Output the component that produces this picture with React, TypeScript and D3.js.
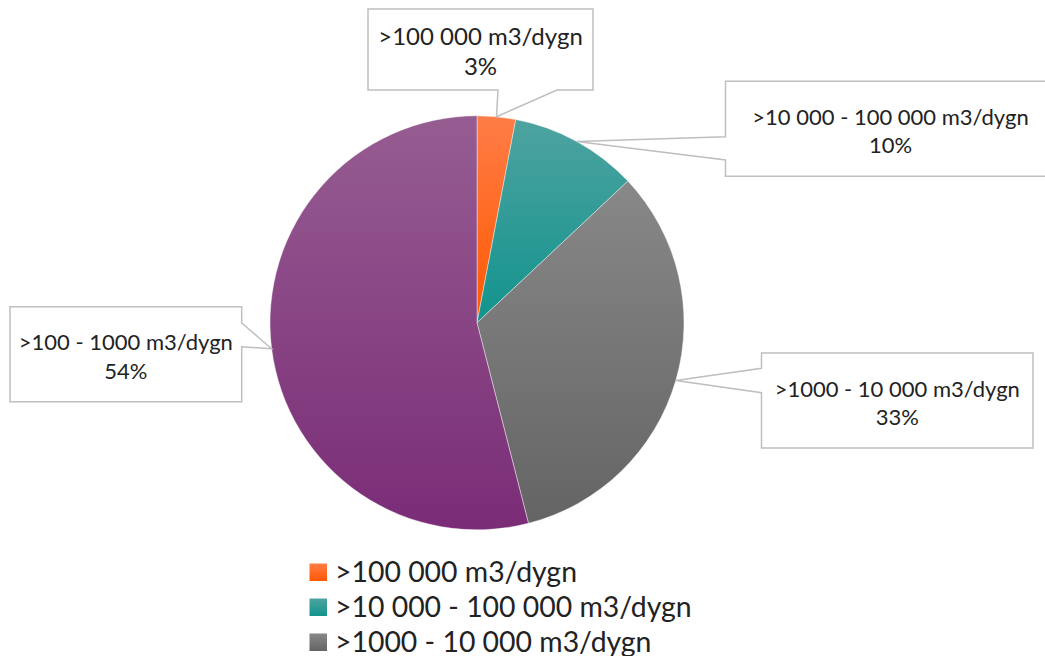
import React from "react";
import * as d3 from "d3";

const categories = [
  ">100 000 m3/dygn",
  ">10 000 - 100 000 m3/dygn",
  ">1000 - 10 000 m3/dygn",
  ">100 - 1000 m3/dygn",
];
const values = [3, 10, 33, 54];
const percentLabels = ["3%", "10%", "33%", "54%"];
const gradTop = ["#ff7d47", "#4ea3a0", "#888888", "#965d92"];
const gradBottom = ["#ff5800", "#12938d", "#646464", "#7a2c76"];

// layout of the callout boxes (style/layout only)
const boxes = [
  { x: 368, y: 9, w: 225, h: 81, side: "bottom", a: 498, b: 557, fs: 24, d1: -5, d2: 25.5 },
  { x: 725.5, y: 81.3, w: 330, h: 95, side: "left", a: 136.7, b: 160, fs: 22, d1: -4, d2: 24.5 },
  { x: 761.5, y: 353, w: 271.5, h: 95, side: "left", a: 368.3, b: 392.7, fs: 22, d1: -4, d2: 24.5 },
  { x: 10, y: 306.7, w: 231.7, h: 95, side: "right", a: 323, b: 346.7, fs: 22, d1: -4, d2: 24.5 },
];

const W = 1045;
const H = 656;
const cx = 477;
const cy = 322.8;
const R = 207;
const FONT = "Lato, 'Open Sans', sans-serif";

function calloutPath(bx: any, tx: number, ty: number) {
  const { x, y, w, h, side, a, b } = bx;
  if (side === "left") {
    return `M${x},${y}L${x + w},${y}L${x + w},${y + h}L${x},${y + h}L${x},${b}L${tx},${ty}L${x},${a}Z`;
  }
  if (side === "right") {
    return `M${x},${y}L${x + w},${y}L${x + w},${a}L${tx},${ty}L${x + w},${b}L${x + w},${y + h}L${x},${y + h}Z`;
  }
  return `M${x},${y}L${x + w},${y}L${x + w},${y + h}L${b},${y + h}L${tx},${ty}L${a},${y + h}L${x},${y + h}Z`;
}

export default function App() {
  const pie = d3.pie<number>().sort(null).value((d) => d);
  const arcs = pie(values);
  const arc = d3.arc<d3.PieArcDatum<number>>().innerRadius(0).outerRadius(R);
  const edge = d3.arc<d3.PieArcDatum<number>>().innerRadius(R).outerRadius(R);

  const legendY = d3.scaleLinear().domain([0, 1]).range([572.5, 607.5]);

  return (
    <svg
      width={W}
      height={H}
      style={{ position: "absolute", left: 0, top: 0, background: "#fff" }}
      fontFamily={FONT}
    >
      <defs>
        {values.map((_, i) => (
          <linearGradient key={i} id={`g${i}`} x1="0" y1="0" x2="0" y2="1">
            <stop offset="0" stopColor={gradTop[i]} />
            <stop offset="1" stopColor={gradBottom[i]} />
          </linearGradient>
        ))}
      </defs>
      <rect width={W} height={H} fill="#fff" />
      <g transform={`translate(${cx},${cy})`}>
        {arcs.map((d, i) => (
          <path key={i} d={arc(d) || ""} fill={`url(#g${i})`} stroke="#ffffff" strokeWidth={0.6} strokeOpacity={0.7} />
        ))}
      </g>
      {arcs.map((d, i) => {
        const [px, py] = edge.centroid(d);
        const bx = boxes[i];
        const mx = bx.x + bx.w / 2;
        const my = bx.y + bx.h / 2;
        return (
          <g key={i}>
            <path d={calloutPath(bx, cx + px, cy + py)} fill="#fff" stroke="#bfbfbf" strokeWidth={1.5} />
            <text x={mx} y={my + bx.d1} textAnchor="middle" fontSize={bx.fs} fill="#222">
              {categories[i]}
            </text>
            <text x={mx} y={my + bx.d2} textAnchor="middle" fontSize={bx.fs} fill="#222">
              {percentLabels[i]}
            </text>
          </g>
        );
      })}
      {categories.map((c, i) => {
        const y = legendY(i);
        return (
          <g key={i}>
            <rect x={309.5} y={y - 9} width={17.5} height={17.5} fill={`url(#g${i})`} />
            <text x={335} y={y + 9.5} fontSize={28.4} fill="#222">
              {c}
            </text>
          </g>
        );
      })}
    </svg>
  );
}
